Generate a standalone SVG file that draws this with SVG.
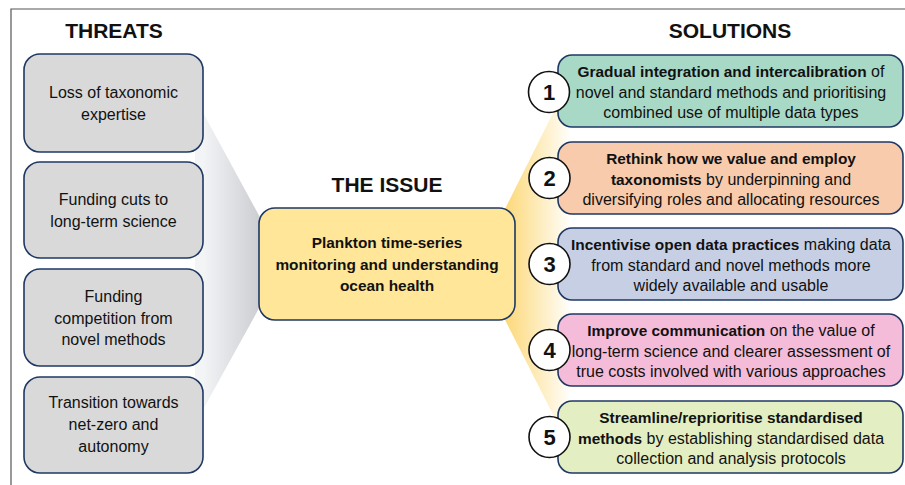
<svg xmlns="http://www.w3.org/2000/svg" width="905" height="485" viewBox="0 0 905 485">
<defs>
<linearGradient id="gGray" gradientUnits="userSpaceOnUse" x1="203" y1="0" x2="262" y2="0">
<stop offset="0" stop-color="#f3f4f6"/><stop offset="1" stop-color="#cbccd0"/>
</linearGradient>
<linearGradient id="gYel" gradientUnits="userSpaceOnUse" x1="505" y1="0" x2="572" y2="0">
<stop offset="0" stop-color="#fcd878"/><stop offset="1" stop-color="#ffffff"/>
</linearGradient>
<style>
.t{font-family:"Liberation Sans",Arial,sans-serif;font-size:16px;fill:#111;text-anchor:middle}
.s{font-family:"Liberation Sans",Arial,sans-serif;font-size:16px;fill:#111;text-anchor:middle}
.i{font-family:"Liberation Sans",Arial,sans-serif;font-size:15.4px;font-weight:bold;fill:#111;text-anchor:middle}
.b{font-weight:bold;font-size:15.4px}
.h{font-family:"Liberation Sans",Arial,sans-serif;font-size:21px;font-weight:bold;fill:#111;text-anchor:middle}
.box{stroke:#1f3864;stroke-width:1.6}
.thr{fill:#d9d9d9}
.num{fill:#fff;stroke:#111;stroke-width:1.6}
.n{font-family:"Liberation Sans",Arial,sans-serif;font-size:22px;font-weight:bold;fill:#111;text-anchor:middle}
</style>
</defs>
<rect width="905" height="485" fill="#fff"/>
<path d="M11 485 V9 H905" fill="none" stroke="#555" stroke-width="1.2"/>

<g id="connectors">
<polygon points="195,98 268,232 268,292 195,424" fill="url(#gGray)"/>
<polygon points="500,219 570,79 570,448 500,310" fill="url(#gYel)"/>
</g>

<text class="h" x="114" y="38" font-size="20">THREATS</text>
<text class="h" x="387" y="192">THE ISSUE</text>
<text class="h" x="730" y="38">SOLUTIONS</text>

<g id="threat1"><rect class="box thr" x="24" y="54" width="179" height="98" rx="16"/>
<text class="t" x="113.5" y="98">Loss of taxonomic</text><text class="t" x="113.5" y="120">expertise</text></g>
<g id="threat2"><rect class="box thr" x="24" y="162" width="179" height="96" rx="16"/>
<text class="t" x="113.5" y="205">Funding cuts to</text><text class="t" x="113.5" y="227">long-term science</text></g>
<g id="threat3"><rect class="box thr" x="24" y="269" width="179" height="97" rx="16"/>
<text class="t" x="113.5" y="302">Funding</text><text class="t" x="113.5" y="323.5">competition from</text><text class="t" x="113.5" y="345">novel methods</text></g>
<g id="threat4"><rect class="box thr" x="24" y="377" width="179" height="96" rx="16"/>
<text class="t" x="113.5" y="408">Transition towards</text><text class="t" x="113.5" y="430">net-zero and</text><text class="t" x="113.5" y="452">autonomy</text></g>

<g id="issue"><rect class="box" x="259" y="208" width="256" height="112" rx="16" fill="#ffe699"/>
<text class="i" x="387" y="248">Plankton time-series</text><text class="i" x="387" y="270">monitoring and understanding</text><text class="i" x="387" y="291">ocean health</text></g>

<g id="solution1"><rect class="box" x="558" y="55" width="345" height="72" rx="14" fill="#a8d8c6"/>
<text class="s" x="731" y="77"><tspan class="b">Gradual integration and intercalibration</tspan> of</text>
<text class="s" x="731" y="98">novel and standard methods and prioritising</text>
<text class="s" x="731" y="118">combined use of multiple data types</text>
<circle class="num" cx="549" cy="92" r="20.5"/><text class="n" x="549" y="100">1</text></g>

<g id="solution2"><rect class="box" x="558" y="142" width="345" height="72" rx="14" fill="#f8cbad"/>
<text class="s" x="731" y="164"><tspan class="b">Rethink how we value and employ</tspan></text>
<text class="s" x="731" y="185"><tspan class="b">taxonomists</tspan> by underpinning and</text>
<text class="s" x="731" y="205">diversifying roles and allocating resources</text>
<circle class="num" cx="549.5" cy="178" r="20.5"/><text class="n" x="549.5" y="186">2</text></g>

<g id="solution3"><rect class="box" x="558" y="228" width="345" height="72" rx="14" fill="#c7cfe5"/>
<text class="s" x="731" y="250"><tspan class="b">Incentivise open data practices</tspan> making data</text>
<text class="s" x="731" y="271">from standard and novel methods more</text>
<text class="s" x="731" y="291">widely available and usable</text>
<circle class="num" cx="549.5" cy="264" r="20.5"/><text class="n" x="549.5" y="272">3</text></g>

<g id="solution4"><rect class="box" x="558" y="314" width="345" height="72" rx="14" fill="#f5bcd9"/>
<text class="s" x="731" y="336"><tspan class="b">Improve communication</tspan> on the value of</text>
<text class="s" x="731" y="357">long-term science and clearer assessment of</text>
<text class="s" x="731" y="377">true costs involved with various approaches</text>
<circle class="num" cx="549.5" cy="350" r="20.5"/><text class="n" x="549.5" y="358">4</text></g>

<g id="solution5"><rect class="box" x="558" y="401" width="345" height="72" rx="14" fill="#e3efc3"/>
<text class="s" x="731" y="423"><tspan class="b">Streamline/reprioritise standardised</tspan></text>
<text class="s" x="731" y="444"><tspan class="b">methods</tspan> by establishing standardised data</text>
<text class="s" x="731" y="464">collection and analysis protocols</text>
<circle class="num" cx="549.5" cy="437" r="20.5"/><text class="n" x="549.5" y="445">5</text></g>
</svg>
